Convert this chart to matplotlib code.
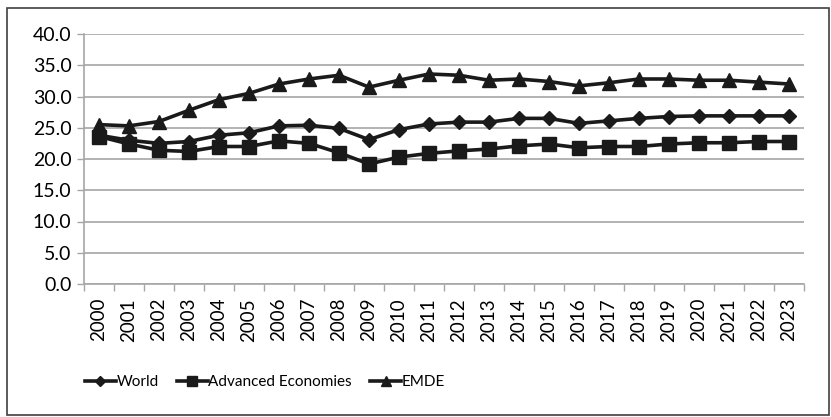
import matplotlib.pyplot as plt
from matplotlib.patches import Rectangle

years = [str(y) for y in range(2000, 2024)]
world = [23.8, 23.0, 22.5, 22.8, 23.8, 24.2, 25.3, 25.4, 24.9, 23.1, 24.7, 25.6,
         25.9, 25.9, 26.5, 26.5, 25.7, 26.1, 26.5, 26.8, 26.9, 26.9, 26.9, 26.9]
advanced = [23.6, 22.4, 21.4, 21.2, 22.0, 22.0, 22.9, 22.5, 21.0, 19.2, 20.3, 20.9,
            21.3, 21.6, 22.1, 22.4, 21.8, 22.0, 22.0, 22.4, 22.6, 22.6, 22.8, 22.8]
emde = [25.5, 25.3, 26.0, 27.8, 29.5, 30.5, 32.0, 32.8, 33.4, 31.5, 32.6, 33.6,
        33.4, 32.6, 32.8, 32.4, 31.7, 32.2, 32.8, 32.8, 32.6, 32.6, 32.3, 32.0]

plt.rcParams["font.family"] = ["Lato", "DejaVu Sans"]
ink = "#1a1a1a"
grid = "#a6a6a6"

fig = plt.figure(figsize=(8.31, 4.17), dpi=100)
fig.patches.append(Rectangle((7 / 831, 2 / 417), 822 / 831, 407 / 417,
                             transform=fig.transFigure, fill=False,
                             edgecolor="#404040", linewidth=1.2))

ax = fig.add_axes([84 / 831, 133 / 417, 720 / 831, 250 / 417])
x = range(len(years))
ax.plot(x, world, color=ink, lw=2.6, marker="D", ms=7, label="World")
ax.plot(x, advanced, color=ink, lw=2.6, marker="s", ms=10.5, label="Advanced Economies")
ax.plot(x, emde, color=ink, lw=2.6, marker="^", ms=10, label="EMDE")

ax.set_ylim(0, 40)
ax.set_yticks(range(0, 41, 5))
ax.set_yticklabels([f"{v:.1f}" for v in range(0, 41, 5)])
ax.set_xlim(-0.5, len(years) - 0.5)
# boundary ticks between years, year labels centred on the points
ax.set_xticks([i - 0.5 for i in range(len(years) + 1)])
ax.set_xticklabels([])
ax.set_xticks(list(x), minor=True)
ax.set_xticklabels(years, minor=True, rotation=90, fontsize=13.5)
ax.tick_params(axis="x", which="minor", length=0, pad=10)
ax.tick_params(axis="x", which="major", length=5, color=grid, width=1)
ax.tick_params(axis="y", length=5, color=grid, width=1, labelsize=14, pad=4)

ax.grid(axis="y", color=grid, lw=1.2)
ax.set_axisbelow(True)
for side in ["top", "right"]:
    ax.spines[side].set_visible(False)
for side in ["left", "bottom"]:
    ax.spines[side].set_color(grid)
    ax.spines[side].set_linewidth(1.2)

fig.legend(loc="center", bbox_to_anchor=(265 / 831, 1 - 382 / 417), ncol=3,
           frameon=False, markerscale=0.7, handlelength=2.0, handletextpad=0.05,
           columnspacing=1.2, fontsize=11)

fig.savefig("out.png", dpi=100)
